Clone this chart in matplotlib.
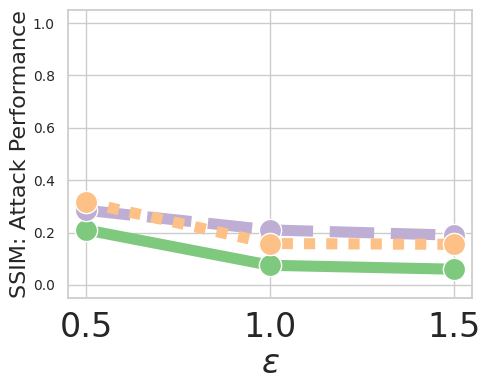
import matplotlib
matplotlib.use("Agg")
import matplotlib.pyplot as plt
import seaborn as sns

sns.set_theme(style="whitegrid")

epsilons = [0.5, 1.0, 1.5]
green_vals = [0.21, 0.075, 0.06]
purple_vals = [0.285, 0.21, 0.19]
orange_vals = [0.315, 0.158, 0.155]

colors = {"green": "#7fc97f", "purple": "#beaed4", "orange": "#fdc086"}

fig = plt.figure(figsize=(4.89, 3.90), dpi=100)
ax = fig.add_axes([68/489, 1 - 298/390, (472-68)/489, (298-10)/390])

lw = 8
ms = 16
ax.plot(epsilons, green_vals, color=colors["green"], lw=lw, marker="o", ms=ms,
        mec="white", mew=1, solid_capstyle="butt", zorder=3)
ax.plot(epsilons, purple_vals, color=colors["purple"], lw=lw, marker="o", ms=ms,
        mec="white", mew=1, dashes=(4, 1.5), dash_capstyle="butt", zorder=3)
ax.plot(epsilons, orange_vals, color=colors["orange"], lw=lw, marker="o", ms=ms,
        mec="white", mew=1, dashes=(1, 1), dash_capstyle="butt", zorder=3)

ax.set_xlim(0.45, 1.55)
ax.set_ylim(-0.05, 1.05)
ax.set_xticks([0.5, 1.0, 1.5])
ax.set_yticks([0.0, 0.2, 0.4, 0.6, 0.8, 1.0])
ax.tick_params(axis="x", labelsize=24)
ax.tick_params(axis="y", labelsize=10)
ax.set_xlabel(r"$\varepsilon$", fontsize=24, labelpad=2)
ax.set_ylabel("SSIM: Attack Performance", fontsize=16, labelpad=2)

fig.savefig("out.png", dpi=100)
